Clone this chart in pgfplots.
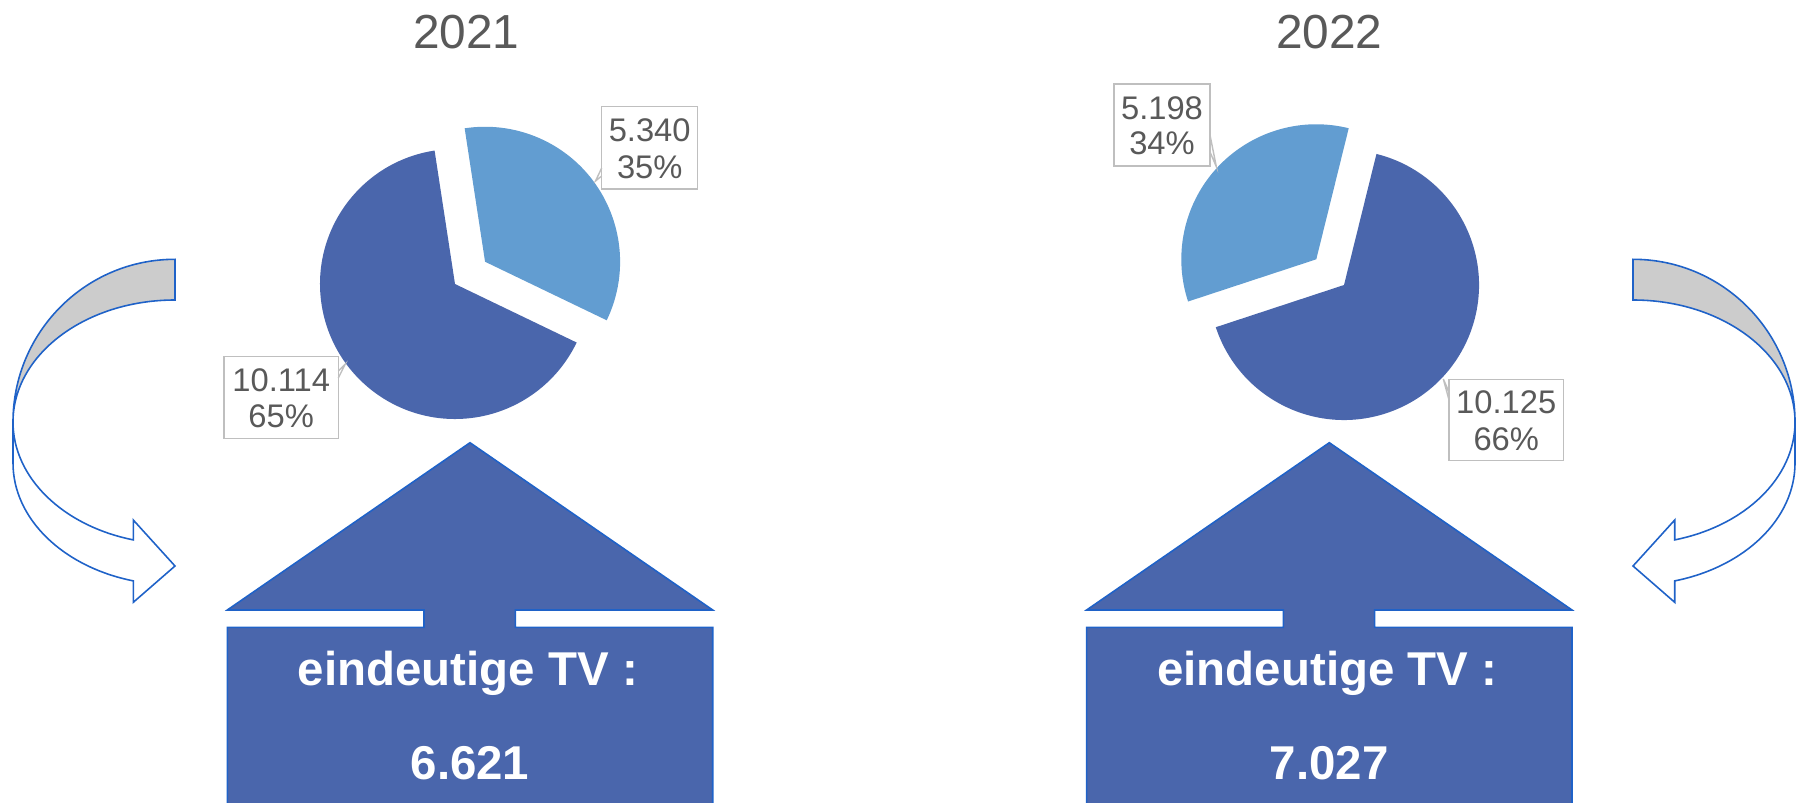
\documentclass[border=0pt]{standalone}
\usepackage{pgfplots}
\pgfplotsset{compat=1.18}
\usepackage{fontspec}
\setmainfont{Liberation Sans}
\definecolor{darkb}{HTML}{4A66AC}
\definecolor{lightb}{HTML}{629DD1}
\definecolor{lineb}{HTML}{1F62C8}
\definecolor{txt}{HTML}{595959}
\definecolor{boxg}{HTML}{BFBFBF}
\definecolor{arrg}{HTML}{CCCCCC}
\newcommand\lbl{\fontsize{9.3}{10}\selectfont}
\newcommand\ttl{\fontsize{13.6}{16}\selectfont}
\newcommand\hs{\fontsize{13.5}{16}\selectfont\bfseries}
\begin{document}
\begin{tikzpicture}
% values
\pgfmathsetmacro{\angA}{360*(5.340/(5.340+10.114))}
\def\bA{98.7}
\pgfmathsetmacro{\lsA}{\bA-\angA}
\pgfmathsetmacro{\deA}{\lsA+360}
\pgfmathsetmacro{\biA}{\bA-\angA/2}
\pgfmathsetmacro{\angB}{360*(5.198/(5.198+10.125))}
\def\bB{76.1}
\pgfmathsetmacro{\leB}{\bB+\angB}
\pgfmathsetmacro{\deB}{\bB+360}
\pgfmathsetmacro{\biB}{\bB+\angB/2}
\useasboundingbox (0,0) rectangle (17.96cm,8.02cm);
\begin{axis}[at={(0,0)}, anchor=south west, width=17.96cm, height=8.02cm,
  scale only axis, xmin=0, xmax=1796, ymin=0, ymax=802, y dir=reverse,
  hide axis, clip=false]
% titles
\node[anchor=base, text=txt, font=\ttl] at (axis cs:466.3,48.3) {2021};
\node[anchor=base, text=txt, font=\ttl] at (axis cs:1329.3,48.3) {2022};
% pie 2021
\fill[darkb] (axis cs:455,284) -- ++(\bA:1.35cm) arc[start angle=\bA, end angle=\deA, radius=1.35cm] -- cycle;
\fill[lightb] (axis cs:455,284) ++(\biA:0.374cm) -- ++(\lsA:1.35cm) arc[start angle=\lsA, end angle=\bA, radius=1.35cm] -- cycle;
% pie 2022
\fill[darkb] (axis cs:1344,285) -- ++(\leB:1.35cm) arc[start angle=\leB, end angle=\deB, radius=1.35cm] -- cycle;
\fill[lightb] (axis cs:1344,285) ++(\biB:0.378cm) -- ++(\bB:1.35cm) arc[start angle=\bB, end angle=\leB, radius=1.35cm] -- cycle;
% label boxes
\filldraw[fill=white, draw=boxg, line width=0.4pt] (axis cs:601.7,106.7) rectangle (axis cs:697.7,189);
\draw[boxg, line width=0.4pt] (axis cs:601.7,168) -- (axis cs:595.5,181) -- (axis cs:601.7,176);
\node[anchor=base, text=txt, font=\lbl] at (axis cs:649.7,141.7) {5.340};
\node[anchor=base, text=txt, font=\lbl] at (axis cs:649.7,178.3) {35\%};
\filldraw[fill=white, draw=boxg, line width=0.4pt] (axis cs:224,356.7) rectangle (axis cs:338.3,438.3);
\draw[boxg, line width=0.4pt] (axis cs:338.3,371) -- (axis cs:345.3,364) -- (axis cs:338.3,378);
\node[anchor=base, text=txt, font=\lbl] at (axis cs:281.2,391) {10.114};
\node[anchor=base, text=txt, font=\lbl] at (axis cs:281.2,427.7) {65\%};
\filldraw[fill=white, draw=boxg, line width=0.4pt] (axis cs:1114,84) rectangle (axis cs:1210,166);
\draw[boxg, line width=0.4pt] (axis cs:1210,135) -- (axis cs:1216.3,166.7) -- (axis cs:1210,152);
\node[anchor=base, text=txt, font=\lbl] at (axis cs:1162,119.3) {5.198};
\node[anchor=base, text=txt, font=\lbl] at (axis cs:1162,155) {34\%};
\filldraw[fill=white, draw=boxg, line width=0.4pt] (axis cs:1449,379.3) rectangle (axis cs:1563.3,460.7);
\draw[boxg, line width=0.4pt] (axis cs:1449,400) -- (axis cs:1443.3,379) -- (axis cs:1449,392);
\node[anchor=base, text=txt, font=\lbl] at (axis cs:1506.2,413.3) {10.125};
\node[anchor=base, text=txt, font=\lbl] at (axis cs:1506.2,450.7) {66\%};
% houses
\filldraw[fill=darkb, draw=lineb, line width=0.45pt] (axis cs:227.3,610) -- (axis cs:470,442.7) -- (axis cs:712.7,610) -- (axis cs:515.3,610) -- (axis cs:515.3,627.3) -- (axis cs:712.7,627.3) -- (axis cs:712.7,815) -- (axis cs:227.3,815) -- (axis cs:227.3,627.3) -- (axis cs:424,627.3) -- (axis cs:424,610) -- cycle;
\node[anchor=base, text=white, font=\hs] at (axis cs:468,685.7) {eindeutige TV :};
\node[anchor=base, text=white, font=\hs] at (axis cs:470,779.3) {6.621};
\filldraw[fill=darkb, draw=lineb, line width=0.45pt] (axis cs:1086.6,610) -- (axis cs:1329.3,442.7) -- (axis cs:1572,610) -- (axis cs:1374.6,610) -- (axis cs:1374.6,627.3) -- (axis cs:1572,627.3) -- (axis cs:1572,815) -- (axis cs:1086.6,815) -- (axis cs:1086.6,627.3) -- (axis cs:1283.3,627.3) -- (axis cs:1283.3,610) -- cycle;
\node[anchor=base, text=white, font=\hs] at (axis cs:1327.3,685.7) {eindeutige TV :};
\node[anchor=base, text=white, font=\hs] at (axis cs:1329.3,779.3) {7.027};
% left arrow
\filldraw[fill=arrg, draw=lineb, line width=0.45pt] (axis cs:175,259.3) arc[start angle=90, end angle=180, x radius=1.62cm, y radius=1.627cm] arc[start angle=180, end angle=90, x radius=1.62cm, y radius=1.22cm] -- cycle;
\filldraw[fill=white, draw=lineb, line width=0.45pt] (axis cs:13,422) arc[start angle=180, end angle=255.08, x radius=1.62cm, y radius=1.22cm] -- (axis cs:133.3,520) -- (axis cs:175,566) -- (axis cs:133.3,602.3) -- (axis cs:133.3,580.9) arc[start angle=255.08, end angle=180, x radius=1.62cm, y radius=1.22cm] -- cycle;
% right arrow
\filldraw[fill=arrg, draw=lineb, line width=0.45pt] (axis cs:1633,259.3) arc[start angle=90, end angle=0, x radius=1.62cm, y radius=1.627cm] arc[start angle=0, end angle=90, x radius=1.62cm, y radius=1.22cm] -- cycle;
\filldraw[fill=white, draw=lineb, line width=0.45pt] (axis cs:1795,422) arc[start angle=0, end angle=-75.08, x radius=1.62cm, y radius=1.22cm] -- (axis cs:1674.7,520) -- (axis cs:1633,566) -- (axis cs:1674.7,602.3) -- (axis cs:1674.7,580.9) arc[start angle=-75.08, end angle=0, x radius=1.62cm, y radius=1.22cm] -- cycle;
\end{axis}
\end{tikzpicture}
\end{document}
